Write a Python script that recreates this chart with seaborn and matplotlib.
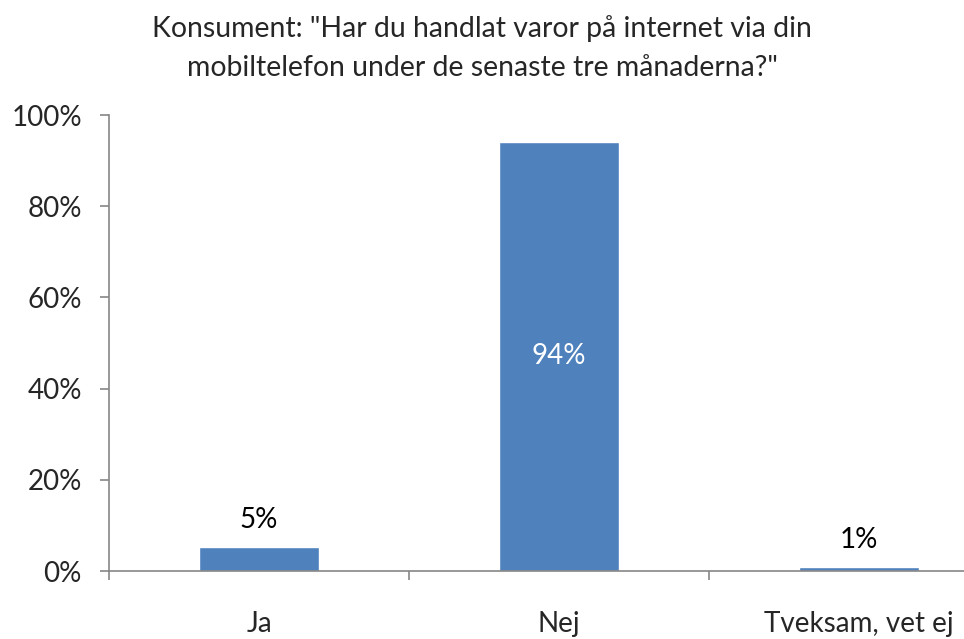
import matplotlib.pyplot as plt
import seaborn as sns

categories = ["Ja", "Nej", "Tveksam, vet ej"]
shares = [5.3, 94.1, 0.9]
share_labels = ["5%", "94%", "1%"]
y_ticks = [0, 20, 40, 60, 80, 100]

sns.set_style("white")
plt.rcParams["font.family"] = ["Lato", "DejaVu Sans"]

BAR_COLOR = "#4F81BD"
AXIS_COLOR = "#868686"
FS = 20

fig = plt.figure(figsize=(9.64, 6.39), dpi=100)
ax = fig.add_axes([109 / 964, (639 - 571) / 639, 900 / 964, 456 / 639])

sns.barplot(x=categories, y=shares, color=BAR_COLOR, width=0.4,
            saturation=1, ax=ax)

ax.set_xlim(-0.5, 2.5)
ax.set_ylim(0, 100)
ax.set_yticks(y_ticks)
ax.set_yticklabels([f"{t}%" for t in y_ticks])

for side in ("top", "right"):
    ax.spines[side].set_visible(False)
for side in ("left", "bottom"):
    ax.spines[side].set_color(AXIS_COLOR)
    ax.spines[side].set_linewidth(1.2)

ax.tick_params(axis="y", direction="out", length=6.5, width=1.2,
               color=AXIS_COLOR, pad=13, labelsize=FS, left=True)
ax.tick_params(axis="x", which="major", length=0, pad=29, labelsize=FS)
ax.set_xticks([-0.5, 0.5, 1.5, 2.5], minor=True)
ax.tick_params(axis="x", which="minor", direction="out", length=6.5,
               width=1.2, color=AXIS_COLOR, bottom=True)

for i, (v, lab) in enumerate(zip(shares, share_labels)):
    if v > 50:
        ax.text(i, v / 2, lab, ha="center", va="center", color="white",
                fontsize=FS)
    else:
        ax.text(i, v + 3, lab, ha="center", va="bottom", color="black",
                fontsize=FS)

fig.text(0.5, 1 - 29 / 639,
         'Konsument: "Har du handlat varor på internet via din',
         ha="center", va="center", fontsize=20.4)
fig.text(0.5, 1 - 68 / 639,
         'mobiltelefon under de senaste tre månaderna?"',
         ha="center", va="center", fontsize=20.4)

fig.savefig("out.png", dpi=100)
